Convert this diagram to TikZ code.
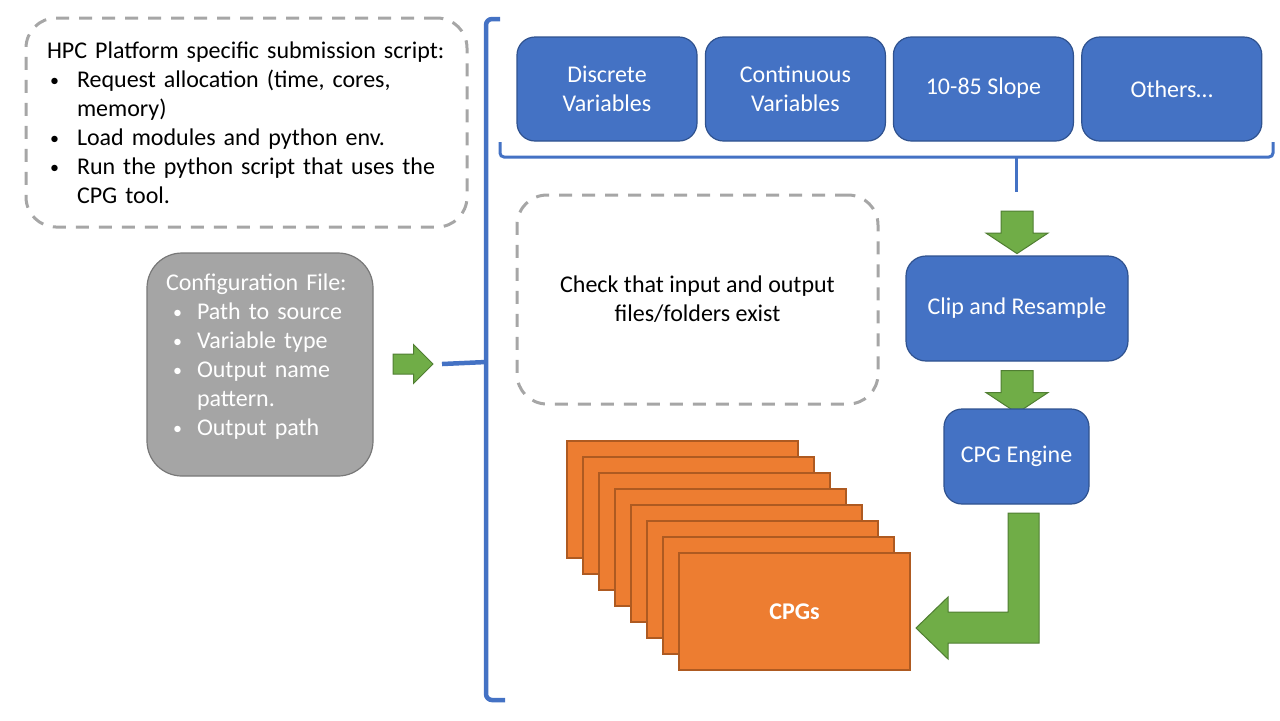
\documentclass[tikz,border=0pt]{standalone}
\usepackage{fontspec}
\setmainfont{Carlito}
\usepackage{tikz}
\usetikzlibrary{shapes,arrows,positioning}

\definecolor{blueface}{HTML}{4472C4}
\definecolor{blueline}{HTML}{2F528F}
\definecolor{greenface}{HTML}{70AD47}
\definecolor{greenline}{HTML}{507E32}
\definecolor{orangeface}{HTML}{ED7D31}
\definecolor{orangeline}{HTML}{AE5A21}
\definecolor{confface}{HTML}{A5A5A5}
\definecolor{confline}{HTML}{787878}
\definecolor{dashgray}{HTML}{A6A6A6}

\newcommand{\smallbul}{\raisebox{0.1ex}{\fontsize{9}{9}\selectfont\textbullet}}
\newcommand{\hpcitem}{\hspace*{1.5pt}\makebox[13.5pt][l]{\smallbul}}
\newcommand{\cfgitem}{\hspace*{3.5pt}\makebox[12pt][l]{\smallbul}}

\begin{document}
\begin{tikzpicture}[x=0.5pt,y=-0.5pt,
	font=\fontsize{12}{14.5}\selectfont,
	bluebox/.style={draw=blueline, fill=blueface, line width=0.6pt, rounded corners=9pt, text=white, align=center, minimum width=90pt, minimum height=52pt},
	dashbox/.style={draw=dashgray, line width=1.5pt, dash pattern=on 6.5pt off 5pt, rounded corners=15pt},
	garrow/.style={single arrow, draw=greenline, fill=greenface, line width=0.5pt},
	downarrow/.style={garrow, shape border rotate=270, inner sep=7.75pt, single arrow head extend=7.5pt, single arrow tip angle=113, minimum height=20pt},
	cpgsheet/.style={draw=orangeline, fill=orangeface, line width=0.6pt, minimum width=115.5pt, minimum height=58.5pt, inner sep=0pt},
	brace/.style={draw=blueface, line width=2.25pt, rounded corners=3pt}]
	\useasboundingbox (0,0) rectangle (1280,720);

	% submission script
	\node[dashbox, minimum width=220.5pt, minimum height=104.5pt, text width=199.5pt, inner xsep=10.5pt, align=left] (hpc) at (246.5,122.5) {HPC Platform specific submission script:\\
		\hpcitem Request allocation (time, cores,\\
		\hspace*{15pt}memory)\\
		\hpcitem Load modules and python env.\\
		\hpcitem Run the python script that uses the\\
		\hspace*{15pt}CPG tool.};

	% configuration file
	\node[draw=confline, fill=confface, line width=0.6pt, rounded corners=17.5pt, minimum width=113pt, minimum height=111.5pt] (conf) at (260,364.5) {};
	\node[text=white, align=left, text width=94pt, inner sep=0pt, yshift=4pt] (conftext) at (conf.center) {Configuration File:\\
		\cfgitem Path to source\\
		\cfgitem Variable type\\
		\cfgitem Output name\\
		\hspace*{15.5pt}pattern.\\
		\cfgitem Output path};
	\node[garrow, inner sep=4.75pt, single arrow head extend=4.75pt, minimum height=20pt] (confarrow) at (408,364) {};

	% big bracket
	\draw[brace] (500,19) -- (486,19) -- (486,700) -- (505,700);
	\draw[blueface, line width=2.25pt] (442,364) -- (486,362);

	% variable types
	\node[bluebox] (discrete) at (607,89) {Discrete\\Variables};
	\node[bluebox, right=3.6pt of discrete] (continuous) {Continuous\\Variables};
	\node[bluebox, right=3.4pt of continuous] (slope) {\strut 10-85 Slope};
	\node[bluebox, right=3.6pt of slope] (others) {Others\dots};
	\draw[brace, line width=1.5pt, rounded corners=2pt] (500,142) -- (500,157) -- (1273,157) -- (1273,142);
	\draw[blueface, line width=1.5pt] (1016,157) coordinate (bracetip) -- (1016,192) coordinate (braceend);

	% checks
	\node[dashbox, minimum width=180.5pt, minimum height=104.5pt, align=center] (check) at (697.5,299.5) {Check that input and output\\files/folders exist};

	% processing
	\node[downarrow] (arrowone) at (1017,227) {};
	\node[draw=blueline, fill=blueface, line width=0.6pt, rounded corners=10pt, text=white, minimum width=111pt, minimum height=52.5pt] (clip) at (1017,308.5) {Clip and Resample};
	\node[downarrow] (arrowtwo) at (1017,386.5) {};
	\node[draw=blueline, fill=blueface, line width=0.6pt, rounded corners=9pt, text=white, minimum width=72.5pt, minimum height=47.5pt] (engine) at (1016.5,456.5) {CPG Engine};

	% output stack
	\foreach \i in {0,...,6}
		\node[cpgsheet] (sheet\i) at (682.5+16*\i,499.5+16*\i) {};
	\node[cpgsheet, text=white, font=\fontsize{12}{14.5}\selectfont\bfseries] (cpgs) at (794.5,611.5) {CPGs};

	\draw[draw=greenline, fill=greenface, line width=0.5pt] (1008,513) -- (1039,513) -- (1039,643) -- (948,643) -- (948,659) -- (916,628) -- (948,597) -- (948,612) -- (1008,612) -- cycle;
\end{tikzpicture}
\end{document}
